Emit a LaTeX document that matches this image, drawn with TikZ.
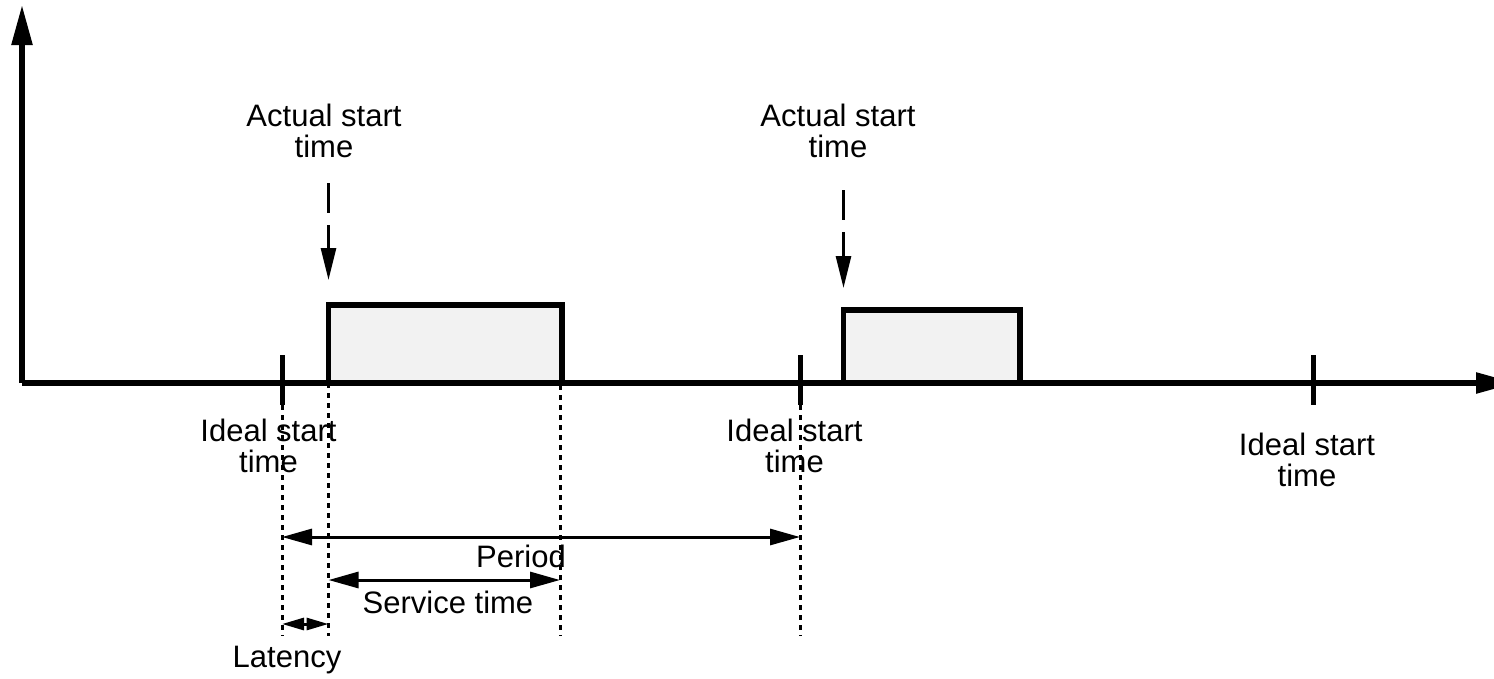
\documentclass[tikz,border=0pt]{standalone}
\usepackage{fontspec}
\setmainfont{Liberation Sans}
\usetikzlibrary{arrows.meta}

\begin{document}
\begin{tikzpicture}[
    x=1pt, y=-1pt, % work in points, y grows downwards
    axis/.style={line width=5.5pt, -{Triangle[length=40pt,width=20pt]}}, % time and value axes
    tick/.style={line width=5pt}, % marks on the time axis
    job/.style={draw, line width=5.5pt, fill=black!5, anchor=south west}, % one run of the task
    startarrow/.style={line width=2.8pt, dash pattern=on 30pt off 12pt,
        -{Triangle[length=32pt,width=15pt]}}, % points at the real start
    guide/.style={line width=3pt, dash pattern=on 5pt off 5pt}, % dotted helper lines
    dimarrow/.style={line width=3pt,
        {Triangle[length=30pt,width=16pt]}-{Triangle[length=30pt,width=16pt]}}, % spans
    latarrow/.style={line width=3pt,
        {Triangle[length=22pt,width=12pt]}-{Triangle[length=22pt,width=12pt]}},
    every node/.style={
        inner sep=0pt, outer sep=0pt,
        align=center, % two-line labels
        font=\fontsize{31}{31}\selectfont
    },
]
\useasboundingbox (0,0) rectangle (1494,678);

% axes
\coordinate (origin) at (22,383);
\coordinate (ytip) at (22,5);
\coordinate (xtip) at (1516,383);
\draw[axis] (origin) -- (ytip);
\draw[axis] (origin) -- (xtip);

% ideal start times
\foreach \i/\x in {1/282, 2/800, 3/1313} {
    \coordinate (ideal\i) at (\x,383);
    \draw[tick] ([yshift=28pt]ideal\i) -- ([yshift=-22pt]ideal\i);
}
\node[anchor=south] (idealtxt1) at (268.5,473) {Ideal start\\time};
\node[anchor=south] (idealtxt2) at (794.5,473) {Ideal start\\time};
\node[anchor=south] (idealtxt3) at (1307,487) {Ideal start\\time};

% the two runs
\node[job, minimum width=233.5pt, minimum height=78pt] (job1) at (328.5,383) {};
\node[job, minimum width=176.5pt, minimum height=73pt] (job2) at (843.5,383) {};

% actual start times
\node[anchor=south] (actual1) at (324,158) {Actual start\\time};
\node[anchor=south] (actual2) at (838,158) {Actual start\\time};
\draw[startarrow, shorten <=25pt, shorten >=25pt] (actual1.south -| job1.north west) -- (job1.north west);
\draw[startarrow, shorten <=32pt, shorten >=22pt] (actual2.south -| job2.north west) -- (job2.north west);

% dotted helper lines
\coordinate (low) at (0,636);
\coordinate (done1) at ([xshift=-2pt]job1.north east);
\draw[guide] ([yshift=-22pt]ideal1) -- (ideal1 |- low);
\draw[guide] (job1.south west) -- (job1.south west |- low);
\draw[guide] (done1) -- (done1 |- low);
\draw[guide] ([yshift=-22pt]ideal2) -- (ideal2 |- low);

% spans
\coordinate (per) at (0,537);
\coordinate (serv) at (0,580);
\coordinate (lat) at (0,624);
\draw[dimarrow] (ideal1 |- per) -- (ideal2 |- per);
\draw[dimarrow] (job1.south west |- serv) -- (done1 |- serv);
\draw[latarrow] (ideal1 |- lat) -- (job1.south west |- lat);
\node[anchor=base] (period) at (521,567) {Period};
\node[anchor=base] (service) at (448,613) {Service time};
\node[anchor=base] (latency) at (287,667) {Latency};
\end{tikzpicture}
\end{document}
